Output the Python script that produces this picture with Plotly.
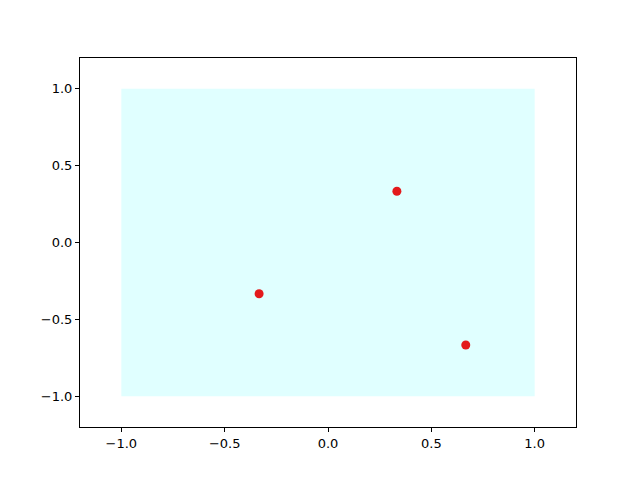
import plotly.graph_objects as go

# box drawn behind the points
box_x = [-1, 1]
box_y = [-1, 1]

# scatter points
pts_x = [-1/3, 1/3, 2/3]
pts_y = [-1/3, 1/3, -2/3]

ticks = [-1.0, -0.5, 0.0, 0.5, 1.0]

fig = go.Figure()
fig.add_shape(type="rect", x0=box_x[0], x1=box_x[1], y0=box_y[0], y1=box_y[1],
              fillcolor="#e0ffff", line_width=0, layer="below")
fig.add_trace(go.Scatter(x=pts_x, y=pts_y, mode="markers",
                         marker=dict(color="#e31a1c", size=9)))

axis = dict(range=[-1.2, 1.2], tickvals=ticks, tickformat=".1f",
            ticks="outside", ticklen=4, tickcolor="black",
            showgrid=False, zeroline=False, showline=True, mirror=True,
            linecolor="black", linewidth=1,
            tickfont=dict(family="DejaVu Sans", size=13, color="black"))

# page body adds an 8px offset, so margins are shifted to compensate
fig.update_layout(
    width=640, height=480,
    margin=dict(l=72, r=72, t=50, b=61),
    plot_bgcolor="white", paper_bgcolor="white",
    showlegend=False,
    xaxis=axis, yaxis=axis,
)

fig.write_html("out.html")
